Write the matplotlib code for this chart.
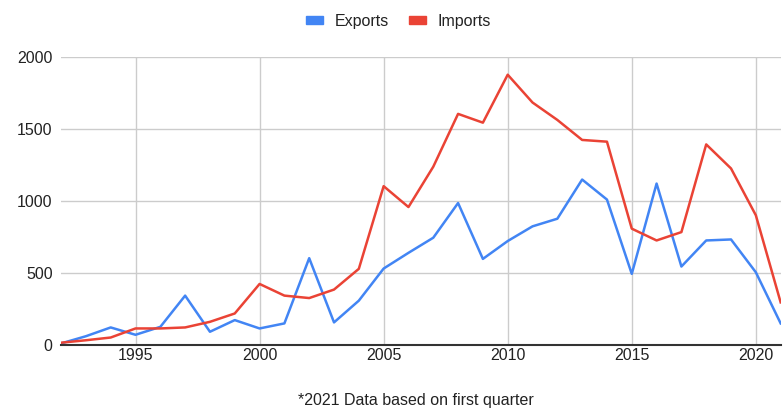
import matplotlib.pyplot as plt
from matplotlib.patches import Patch

plt.rcParams["font.family"] = ["Liberation Sans", "DejaVu Sans"]

years = list(range(1992, 2022))

exports = [
    10, 60, 121, 70, 125, 342, 91, 172, 114, 149,
    602, 156, 307, 530, 639, 744, 985, 597, 721, 823,
    876, 1148, 1009, 493, 1120, 544, 725, 732, 504, 149,
]

imports = [
    15, 32, 51, 114, 114, 121, 160, 218, 423, 342,
    325, 384, 528, 1102, 957, 1237, 1604, 1543, 1876, 1683,
    1562, 1423, 1411, 807, 725, 783, 1392, 1225, 900, 295,
]

x_ticks = [1995, 2000, 2005, 2010, 2015, 2020]
y_ticks = [0, 500, 1000, 1500, 2000]

blue = "#4285F4"
red = "#EA4335"
text_color = "#222222"

fig = plt.figure(figsize=(7.83, 4.15), dpi=100)
ax = fig.add_axes([0.078, 0.169, 0.919, 0.694])

ax.plot(years, exports, color=blue, linewidth=1.8, label="Exports")
ax.plot(years, imports, color=red, linewidth=1.8, label="Imports")

ax.set_xlim(1992, 2021)
ax.set_ylim(0, 2000)
ax.set_xticks(x_ticks)
ax.set_yticks(y_ticks)

ax.grid(True, color="#cccccc", linewidth=1)
ax.set_axisbelow(True)
for side in ["left", "right", "top"]:
    ax.spines[side].set_visible(False)
ax.spines["bottom"].set_color("#333333")
ax.spines["bottom"].set_linewidth(1.5)
ax.tick_params(length=0, labelsize=11.5, labelcolor=text_color)
ax.tick_params(axis="x", pad=2)
ax.tick_params(axis="y", pad=6)

handles = [Patch(color=blue, label="Exports"), Patch(color=red, label="Imports")]
fig.legend(
    handles=handles,
    loc="center",
    bbox_to_anchor=(0.509, 0.949),
    ncol=2,
    frameon=False,
    fontsize=11.5,
    handlelength=1.06,
    handleheight=0.4,
    handletextpad=0.69,
    columnspacing=1.3,
    labelcolor=text_color,
)

fig.text(0.531, 0.036, "*2021 Data based on first quarter",
         ha="center", va="center", fontsize=11.5, color=text_color)

fig.savefig("out.png", dpi=100)
